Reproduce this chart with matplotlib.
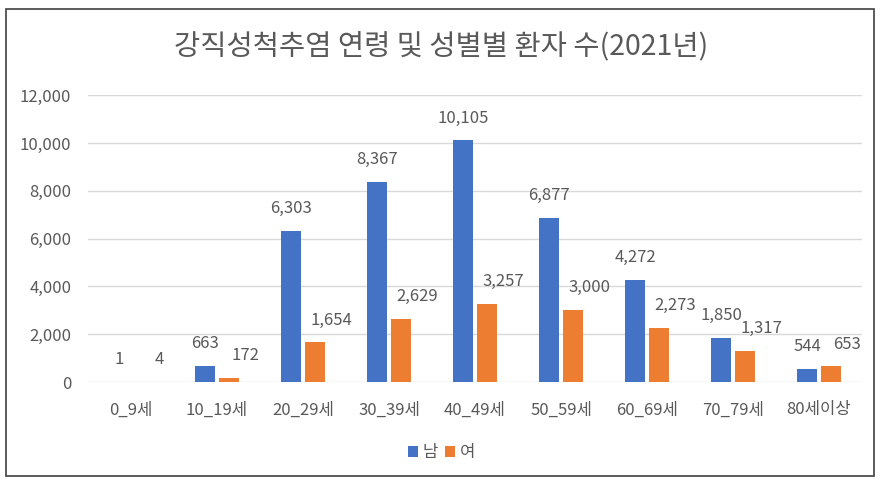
import matplotlib
matplotlib.use("Agg")
import matplotlib.pyplot as plt
from matplotlib.patches import Rectangle
import numpy as np

plt.rcParams['font.family'] = ['Noto Sans CJK KR', 'DejaVu Sans']

categories = ['0_9세', '10_19세', '20_29세', '30_39세', '40_49세', '50_59세', '60_69세', '70_79세', '80세이상']
male = [1, 663, 6303, 8367, 10105, 6877, 4272, 1850, 544]
female = [4, 172, 1654, 2629, 3257, 3000, 2273, 1317, 653]
series_names = ['남', '여']
yticks = [0, 2000, 4000, 6000, 8000, 10000, 12000]

blue = '#4472C4'
orange = '#ED7D31'
grey = '#595959'

fig = plt.figure(figsize=(8.83, 4.87), dpi=100)
ax = fig.add_axes([0.0997, 0.2156, 0.8765, 0.589])

x = np.arange(len(categories))
w = 0.235
off = 0.14
b1 = ax.bar(x - off, male, w, color=blue, label=series_names[0])
b2 = ax.bar(x + off, female, w, color=orange, label=series_names[1])

for bars, vals, dx in ((b1, male, 0), (b2, female, 11.5)):
    for r, v in zip(bars, vals):
        ax.annotate(f'{v:,}', (r.get_x() + r.get_width() / 2, r.get_height()),
                    xytext=(dx, 10), textcoords='offset points', ha='center', va='bottom',
                    fontsize=12, color=grey)

ax.set_xlim(-0.5, len(categories) - 0.5)
ax.set_ylim(0, 12000)
ax.set_yticks(yticks)
ax.set_yticklabels([f'{t:,}' for t in yticks], fontsize=12, color=grey)
ax.set_xticks(x)
ax.set_xticklabels(categories, fontsize=12, color=grey)
ax.tick_params(axis='x', length=0, pad=14)
ax.tick_params(axis='y', length=0, pad=12)
ax.grid(axis='y', color='#D9D9D9', linewidth=1)
ax.set_axisbelow(True)
for s in ax.spines.values():
    s.set_visible(False)

fig.text(0.5, 0.905, '강직성척추염 연령 및 성별별 환자 수(2021년)', ha='center', va='center',
         fontsize=20.5, color=grey)

fig.legend(handles=[b1, b2], labels=series_names, loc='center', bbox_to_anchor=(0.5, 0.07),
           ncol=2, frameon=False, fontsize=12, handlelength=0.6, handleheight=0.6,
           handletextpad=0.3, columnspacing=0.4, labelcolor=grey)

fig.patches.append(Rectangle((6 / 883, 1 - 476 / 487), (874 - 6) / 883, (476 - 9) / 487,
                             transform=fig.transFigure, fill=False, edgecolor='#404040',
                             linewidth=1.2))

fig.savefig('out.png', dpi=100)
